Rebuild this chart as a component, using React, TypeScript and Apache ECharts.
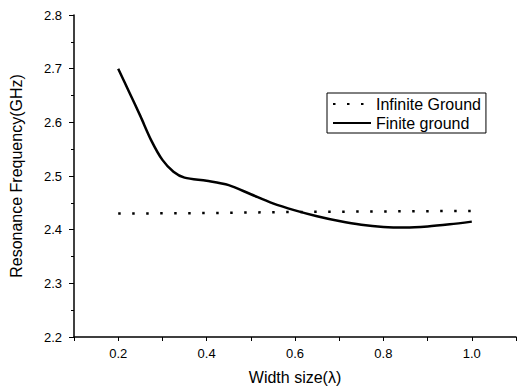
import React, { useEffect, useRef } from "react";
import * as echarts from "echarts";

const xFinite = [0.2, 0.225, 0.25, 0.275, 0.3, 0.325, 0.35, 0.4, 0.45, 0.5, 0.55, 0.6, 0.65, 0.7, 0.75, 0.8, 0.85, 0.9, 0.95, 1.0];
const yFinite = [2.7, 2.656, 2.612, 2.566, 2.53, 2.508, 2.497, 2.491, 2.483, 2.466, 2.449, 2.436, 2.425, 2.416, 2.409, 2.405, 2.404, 2.406, 2.41, 2.415];
const xInfinite = [0.2, 0.4, 0.6, 0.8, 1.0];
const yInfinite = [2.43, 2.431, 2.433, 2.434, 2.435];
const seriesNames = ["Infinite Ground", "Finite ground"];
const xTitle = "Width size(λ)";
const yTitle = "Resonance Frequency(GHz)";

export default function App() {
  const ref = useRef<HTMLDivElement>(null);
  useEffect(() => {
    const chart = echarts.init(ref.current!, null, { renderer: "svg" });
    const font = "'Liberation Sans', Arial, sans-serif";
    chart.setOption({
      animation: false,
      backgroundColor: "#fff",
      grid: { left: 73, right: 0, top: 15, bottom: 52, containLabel: false },
      legend: {
        orient: "vertical",
        left: 327,
        top: 93,
        data: seriesNames,
        borderColor: "#000",
        borderWidth: 1,
        borderRadius: 0,
        padding: [3, 5, 2, 5],
        itemGap: 3,
        itemWidth: 38,
        itemHeight: 12,
        itemStyle: { opacity: 0 },
        textStyle: { color: "#000", fontSize: 16, fontFamily: font },
      },
      xAxis: {
        type: "value",
        min: 0.1,
        max: 1.1,
        interval: 0.1,
        name: xTitle,
        nameLocation: "middle",
        nameGap: 32,
        nameTextStyle: { color: "#000", fontSize: 16, fontFamily: font },
        axisLine: { show: true, lineStyle: { color: "#000", width: 1.5 } },
        axisTick: { show: true, length: 4, lineStyle: { color: "#000", width: 1 } },
        axisLabel: {
          color: "#000",
          fontSize: 13,
          fontFamily: font,
          margin: 10,
          formatter: (v: number) => {
            const k = Math.round(v * 10);
            return k % 2 === 0 && k >= 2 && k <= 10 ? (k / 10).toFixed(1) : "";
          },
        },
        splitLine: { show: false },
      },
      yAxis: {
        type: "value",
        min: 2.2,
        max: 2.8,
        interval: 0.1,
        name: yTitle,
        nameLocation: "middle",
        nameGap: 50,
        nameTextStyle: { color: "#000", fontSize: 16, fontFamily: font },
        axisLine: { show: true, lineStyle: { color: "#000", width: 1.5 } },
        axisTick: { show: true, length: 5, lineStyle: { color: "#000", width: 1 } },
        minorTick: { show: true, splitNumber: 2, length: 3, lineStyle: { color: "#000", width: 1 } },
        axisLabel: {
          color: "#000",
          fontSize: 13,
          fontFamily: font,
          margin: 12,
          formatter: (v: number) => v.toFixed(1),
        },
        splitLine: { show: false },
        minorSplitLine: { show: false },
      },
      series: [
        {
          name: seriesNames[0],
          type: "line",
          data: xInfinite.map((x, i) => [x, yInfinite[i]]),
          symbol: "none",
          lineStyle: { color: "#000", width: 2.5, type: [2.5, 11.5], cap: "butt" },
          itemStyle: { color: "#000" },
        },
        {
          name: seriesNames[1],
          type: "line",
          data: xFinite.map((x, i) => [x, yFinite[i]]),
          symbol: "none",
          smooth: 0.3,
          lineStyle: { color: "#000", width: 2.5 },
          itemStyle: { color: "#000" },
        },
      ],
    });
    return () => chart.dispose();
  }, []);
  return <div ref={ref} style={{ width: 519, height: 390, position: "absolute", left: 0, top: 0 }} />;
}
